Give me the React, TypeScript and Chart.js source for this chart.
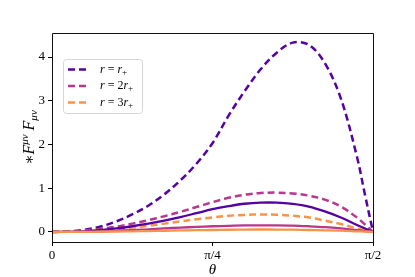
import React, { useEffect, useRef } from "react";
import { Chart, registerables } from "chart.js";
Chart.register(...registerables);

// theta as a fraction of pi/2
const thetaFrac = [0, 0.05, 0.1, 0.15, 0.2, 0.25, 0.3, 0.35, 0.4, 0.45, 0.5, 0.55, 0.6, 0.65, 0.7, 0.75, 0.8, 0.85, 0.9, 0.95, 0.975, 1];

const dashedR1 = [0, 0.01, 0.05, 0.12, 0.24, 0.4, 0.6, 0.86, 1.18, 1.56, 2.03, 2.66, 3.22, 3.72, 4.1, 4.33, 4.28, 3.86, 3.05, 1.72, 0.85, 0];
const dashedR2 = [0, 0.005, 0.03, 0.07, 0.12, 0.19, 0.27, 0.36, 0.46, 0.57, 0.68, 0.78, 0.85, 0.89, 0.9, 0.88, 0.83, 0.74, 0.58, 0.33, 0.17, 0];
const dashedR3 = [0, 0.002, 0.01, 0.03, 0.06, 0.1, 0.14, 0.19, 0.24, 0.29, 0.33, 0.37, 0.39, 0.4, 0.395, 0.37, 0.33, 0.26, 0.18, 0.08, 0.04, 0];
const solidR1 = [0, 0.003, 0.015, 0.04, 0.08, 0.13, 0.19, 0.26, 0.34, 0.43, 0.52, 0.59, 0.645, 0.67, 0.67, 0.64, 0.58, 0.47, 0.33, 0.16, 0.08, 0];
const solidR2 = [0, 0.001, 0.005, 0.012, 0.03, 0.04, 0.06, 0.08, 0.1, 0.115, 0.13, 0.14, 0.15, 0.15, 0.15, 0.145, 0.13, 0.11, 0.08, 0.04, 0.02, 0];
const solidR3 = [0, 0, 0.002, 0.005, 0.01, 0.015, 0.02, 0.027, 0.035, 0.04, 0.045, 0.05, 0.055, 0.056, 0.055, 0.052, 0.045, 0.038, 0.03, 0.015, 0.008, 0];

const xTickValues = [0, Math.PI / 4, Math.PI / 2];
const xTickLabels = ["0", "π/4", "π/2"];
const yTickValues = [0, 1, 2, 3, 4];
const legendCoeffs = ["", "2", "3"];

const PURPLE = "#5402a3";
const MAGENTA = "#b9378d";
const ORANGE = "#f8934a";
const SERIF = "'Liberation Serif', 'DejaVu Serif', serif";

const toPoints = (ys: number[]) => thetaFrac.map((f, i) => ({ x: (f * Math.PI) / 2, y: ys[i] }));

const overlayPlugin = {
  id: "overlay",
  afterDraw(chart: any) {
    const ctx = chart.ctx as CanvasRenderingContext2D;
    const a = chart.chartArea;
    ctx.save();
    ctx.strokeStyle = "#111";
    ctx.lineWidth = 1;
    ctx.beginPath();
    ctx.rect(Math.round(a.left) + 0.5, Math.round(a.top) + 0.5, Math.round(a.right - a.left), Math.round(a.bottom - a.top));
    ctx.stroke();

    ctx.fillStyle = "#000";
    ctx.font = `italic 15px ${SERIF}`;
    ctx.textAlign = "center";
    ctx.textBaseline = "alphabetic";
    ctx.fillText("θ", (a.left + a.right) / 2, 274);

    const parts = [
      { t: "∗", f: `15px ${SERIF}`, dy: 0 },
      { t: "F", f: `italic 16px ${SERIF}`, dy: 0 },
      { t: "μν", f: `italic 11px ${SERIF}`, dy: -6 },
      { t: " F", f: `italic 16px ${SERIF}`, dy: 0 },
      { t: "μν", f: `italic 11px ${SERIF}`, dy: 3 },
    ];
    let total = 0;
    const widths = parts.map((p) => {
      ctx.font = p.f;
      const w = ctx.measureText(p.t).width;
      total += w;
      return w;
    });
    ctx.translate(34, (a.top + a.bottom) / 2);
    ctx.rotate(-Math.PI / 2);
    ctx.textAlign = "left";
    let x = -total / 2;
    parts.forEach((p, i) => {
      ctx.font = p.f;
      ctx.fillText(p.t, x, p.dy);
      x += widths[i];
    });
    ctx.restore();

    ctx.save();
    const bx = 63.5, by = 59.5, bw = 79, bh = 54, r = 3;
    ctx.fillStyle = "rgba(255,255,255,0.8)";
    ctx.strokeStyle = "#d6d6d6";
    ctx.lineWidth = 1;
    ctx.beginPath();
    ctx.moveTo(bx + r, by);
    ctx.arcTo(bx + bw, by, bx + bw, by + bh, r);
    ctx.arcTo(bx + bw, by + bh, bx, by + bh, r);
    ctx.arcTo(bx, by + bh, bx, by, r);
    ctx.arcTo(bx, by, bx + bw, by, r);
    ctx.closePath();
    ctx.fill();
    ctx.stroke();
    const colors = [PURPLE, MAGENTA, ORANGE];
    const rowsY = [69.5, 86, 102.5];
    colors.forEach((c, i) => {
      const y = rowsY[i];
      ctx.strokeStyle = c;
      ctx.lineWidth = 2.5;
      ctx.setLineDash([7, 4]);
      ctx.beginPath();
      ctx.moveTo(68, y);
      ctx.lineTo(90, y);
      ctx.stroke();
      ctx.setLineDash([]);
      ctx.fillStyle = "#000";
      ctx.textBaseline = "middle";
      ctx.textAlign = "left";
      let tx = 100;
      const seg = (t: string, f: string, dy: number) => {
        ctx.font = f;
        ctx.fillText(t, tx, y + dy);
        tx += ctx.measureText(t).width;
      };
      seg("r", `italic 12px ${SERIF}`, 0);
      seg(" = ", `12px ${SERIF}`, 0);
      if (legendCoeffs[i]) seg(legendCoeffs[i], `12px ${SERIF}`, 0);
      seg("r", `italic 12px ${SERIF}`, 0);
      seg("+", `9px ${SERIF}`, 3);
    });
    ctx.restore();
  },
};

export default function App() {
  const ref = useRef<HTMLCanvasElement>(null);
  useEffect(() => {
    if (!ref.current) return;
    const mk = (label: string, ys: number[], color: string, dashed: boolean, order: number) => ({
      label,
      data: toPoints(ys),
      borderColor: color,
      backgroundColor: color,
      borderWidth: dashed ? 2.5 : 2.3,
      borderDash: dashed ? [7, 4] : [],
      pointRadius: 0,
      fill: false,
      tension: 0.35,
      order,
    });
    const chart = new Chart(ref.current, {
      type: "line",
      data: {
        datasets: [
          mk("r = r+", dashedR1, PURPLE, true, 6),
          mk("r = 2r+", dashedR2, MAGENTA, true, 5),
          mk("r = 3r+", dashedR3, ORANGE, true, 4),
          mk("solid r+", solidR1, PURPLE, false, 3),
          mk("solid 2r+", solidR2, MAGENTA, false, 2),
          mk("solid 3r+", solidR3, ORANGE, false, 1),
        ],
      },
      options: {
        animation: false,
        responsive: false,
        layout: { padding: { top: 33, right: 42, left: 0, bottom: 0 } },
        plugins: { legend: { display: false }, tooltip: { enabled: false } },
        scales: {
          x: {
            type: "linear",
            min: 0,
            max: Math.PI / 2,
            afterBuildTicks: (s: any) => {
              s.ticks = xTickValues.map((v) => ({ value: v }));
            },
            afterFit: (s: any) => {
              s.height = 35;
            },
            ticks: {
              autoSkip: false,
              maxRotation: 0,
              color: "#000",
              font: { family: SERIF, size: 13 },
              padding: 2,
              callback: (v: any, i: number) => xTickLabels[i],
            },
            grid: { drawOnChartArea: false, drawTicks: true, tickLength: 4, color: "#000" },
            border: { display: false },
          },
          y: {
            type: "linear",
            min: -0.23,
            max: 4.55,
            afterBuildTicks: (s: any) => {
              s.ticks = yTickValues.map((v) => ({ value: v }));
            },
            afterFit: (s: any) => {
              s.width = 52;
            },
            ticks: {
              color: "#000",
              font: { family: SERIF, size: 13 },
              padding: 3,
              callback: (v: any) => String(v),
            },
            grid: { drawOnChartArea: false, drawTicks: true, tickLength: 4, color: "#000" },
            border: { display: false },
          },
        },
      },
      plugins: [overlayPlugin],
    });
    return () => chart.destroy();
  }, []);
  return (
    <div style={{ position: "fixed", left: 0, top: 0, width: 415, height: 277, background: "#fff" }}>
      <canvas ref={ref} width={415} height={277} style={{ width: 415, height: 277 }} />
    </div>
  );
}
